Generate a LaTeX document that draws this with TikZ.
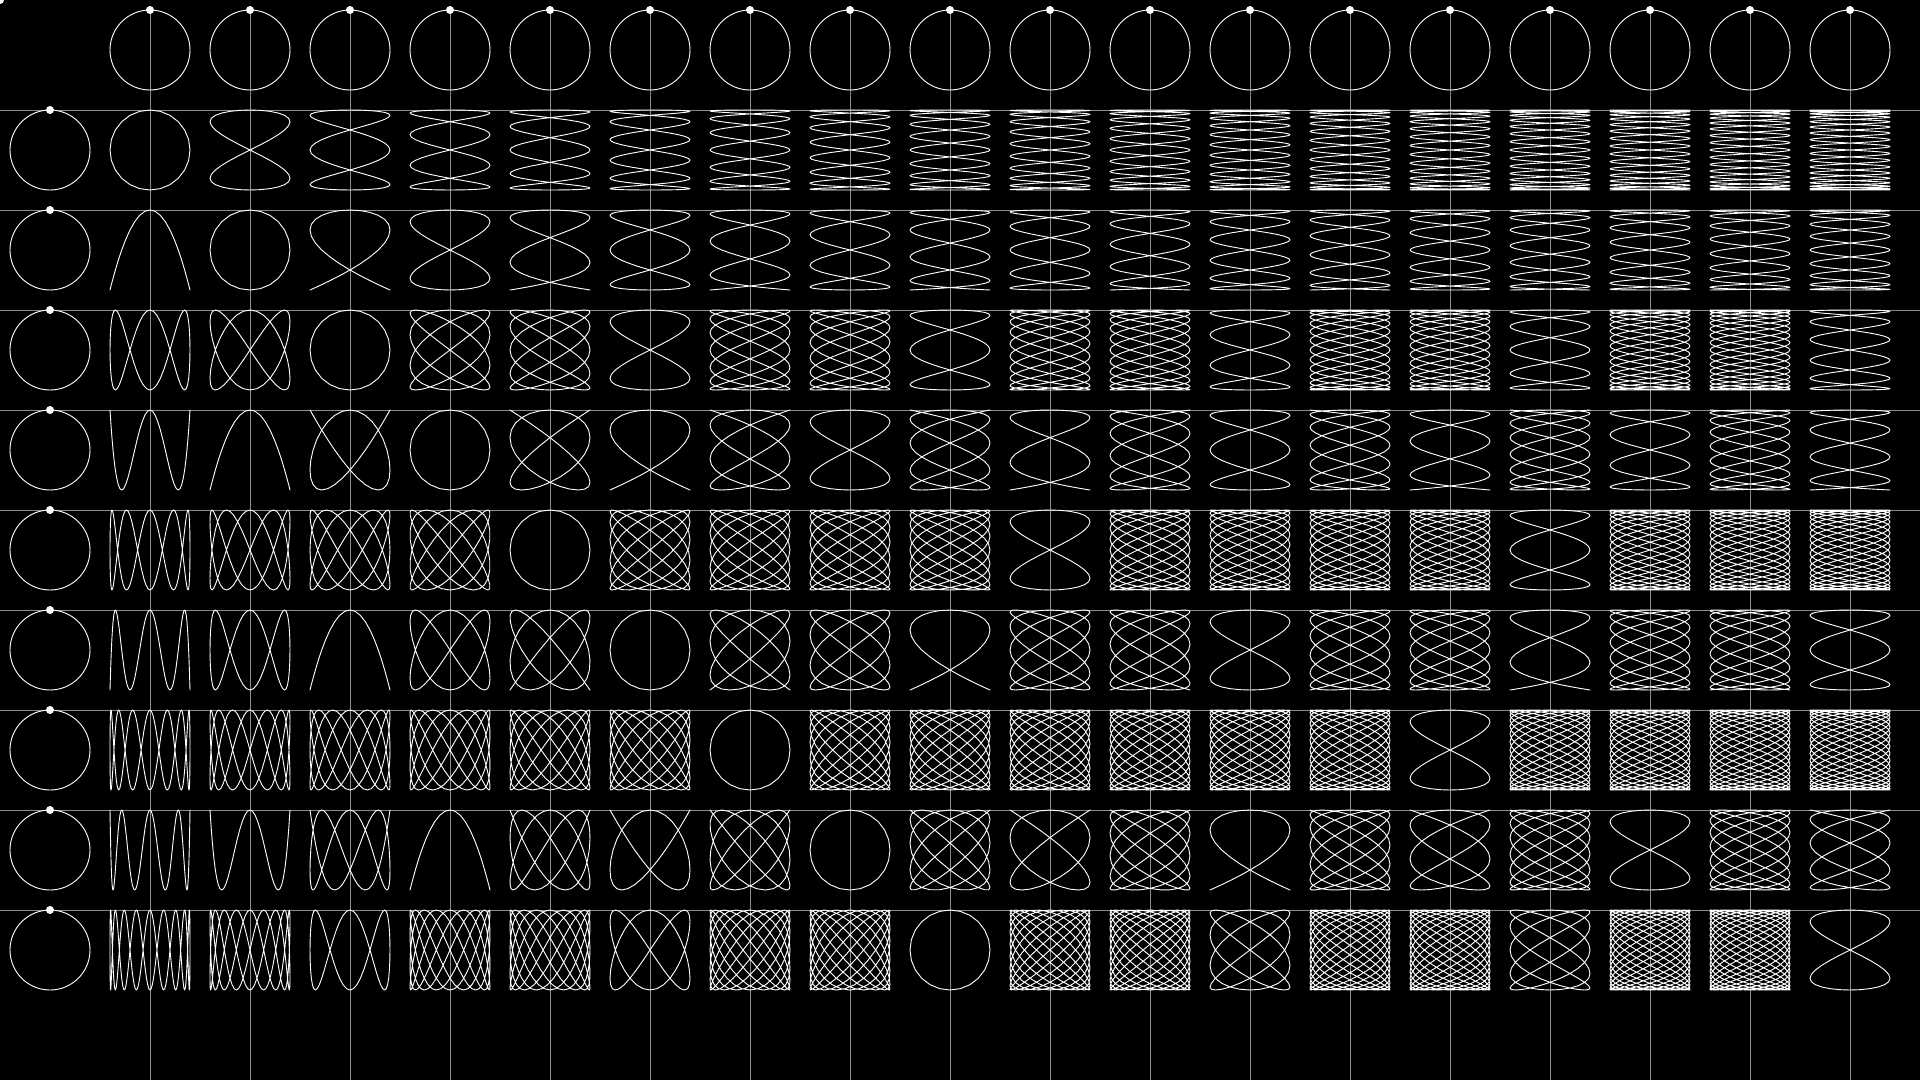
\documentclass[tikz,border=0pt]{standalone}
\begin{document}
\begin{tikzpicture}[x=0.05cm,y=-0.05cm,
  curve/.style={white,line width=1.3pt,line join=round},
  guide/.style={color={rgb,255:red,140;green,140;blue,140},line width=1pt},
  dotmark/.style={fill=white}]
\fill[black] (0,0) rectangle (1920,1080);
\useasboundingbox (0,0) rectangle (1920,1080);
% guide lines through the starting dots
\foreach \j in {1,...,18}{
  \draw[guide] (50+100*\j,10) -- (50+100*\j,1080);
}
\foreach \i in {1,...,9}{
  \draw[guide] (0,10+100*\i) -- (1920,10+100*\i);
}
% column circles
\foreach \j in {1,...,18}{
  \draw[curve] (50+100*\j,50) circle[radius=40];
  \fill[dotmark] (50+100*\j,10) circle[radius=4];
}
% row circles
\foreach \i in {1,...,9}{
  \draw[curve] (50,50+100*\i) circle[radius=40];
  \fill[dotmark] (50,10+100*\i) circle[radius=4];
}
\fill[dotmark] (0,0) circle[radius=4];
% Lissajous table
\foreach \i in {1,...,9}{
  \foreach \j in {1,...,18}{
    \pgfmathtruncatemacro\ns{24*max(\i,\j)+1}
    \draw[curve] plot[domain=0:360,samples=\ns,variable=\t]
      ({50+100*\j+40*sin(\j*\t)},{50+100*\i-40*cos(\i*\t)});
  }
}
\end{tikzpicture}
\end{document}
